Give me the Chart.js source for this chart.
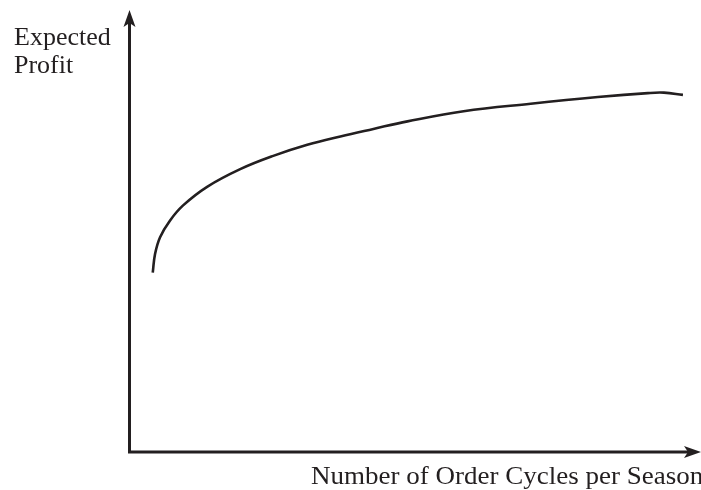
<!DOCTYPE html>
<html>
<head>
<meta charset="utf-8" />
<title>Expected Profit vs Order Cycles</title>
<script src="https://cdn.jsdelivr.net/npm/chart.js@4.4.1/dist/chart.umd.min.js"></script>
<style>
  html,
  body {
    margin: 0;
    padding: 0;
    background: #ffffff;
  }
  #wrap {
    position: relative;
    width: 701px;
    height: 490px;
  }
</style>
</head>
<body>
<div id="wrap"><canvas id="chart"></canvas></div>
<script>
// order cycles per season (relative units) and expected profit (relative units)
const cycles = [
  4.07, 4.47, 5.35, 7.1, 9.38, 13.58, 19.37, 25.15, 31.11, 36.9, 42.68,
  48.64, 58.46, 70.2, 81.95, 90.71, 93.51, 96.84,
]
const profit = [
  40.6, 44.8, 48.6, 52.4, 55.8, 60.0, 64.0, 67.0, 69.5, 71.4, 73.1, 74.8,
  77.1, 78.8, 80.3, 81.2, 81.3, 80.8,
]
const yTitle = ["Expected", "Profit"]
const xTitle = "Number of Order Cycles per Season"

const ink = "#231f20"

// axes with arrowheads, and the two axis captions
const axesPlugin = {
  id: "arrowAxes",
  afterDraw(chart) {
    const ctx = chart.ctx
    const x = chart.scales.x
    const y = chart.scales.y
    const x0 = x.getPixelForValue(0)
    const y0 = y.getPixelForValue(0)
    const yTop = y.getPixelForValue(100)
    const xEnd = x.getPixelForValue(100)

    ctx.save()
    ctx.strokeStyle = ink
    ctx.fillStyle = ink
    ctx.lineWidth = 3
    ctx.lineCap = "butt"

    ctx.beginPath()
    ctx.moveTo(x0, y0 + 1.5)
    ctx.lineTo(x0, yTop + 10)
    ctx.moveTo(x0 - 1.5, y0)
    ctx.lineTo(xEnd - 10, y0)
    ctx.stroke()

    // up arrow
    ctx.beginPath()
    ctx.moveTo(x0, yTop)
    ctx.lineTo(x0 + 6, yTop + 17)
    ctx.lineTo(x0, yTop + 13)
    ctx.lineTo(x0 - 6, yTop + 17)
    ctx.closePath()
    ctx.fill()

    // right arrow
    ctx.beginPath()
    ctx.moveTo(xEnd, y0)
    ctx.lineTo(xEnd - 17, y0 - 6)
    ctx.lineTo(xEnd - 13, y0)
    ctx.lineTo(xEnd - 17, y0 + 6)
    ctx.closePath()
    ctx.fill()

    ctx.textAlign = "left"
    ctx.textBaseline = "alphabetic"
    ctx.font = "26px 'Liberation Serif', 'Times New Roman', serif"
    ctx.fillText(yTitle[0], 14, 45)
    ctx.fillText(yTitle[1], 14, 73)

    ctx.font = "25px 'Liberation Serif', 'Times New Roman', serif"
    ctx.translate(311, 484)
    ctx.scale(1.08, 1)
    ctx.fillText(xTitle, 0, 0)
    ctx.restore()
  },
}

new Chart(document.getElementById("chart"), {
  type: "line",
  data: {
    datasets: [
      {
        data: cycles.map((c, i) => ({ x: c, y: profit[i] })),
        borderColor: ink,
        borderWidth: 2.6,
        pointRadius: 0,
        fill: false,
        tension: 0.4,
      },
    ],
  },
  options: {
    responsive: true,
    maintainAspectRatio: false,
    animation: false,
    events: [],
    layout: {
      padding: { left: 129.5, right: 0, top: 10, bottom: 38 },
    },
    plugins: {
      legend: { display: false },
      tooltip: { enabled: false },
    },
    scales: {
      x: { type: "linear", min: 0, max: 100, display: false },
      y: { type: "linear", min: 0, max: 100, display: false },
    },
  },
  plugins: [axesPlugin],
})
</script>
</body>
</html>
